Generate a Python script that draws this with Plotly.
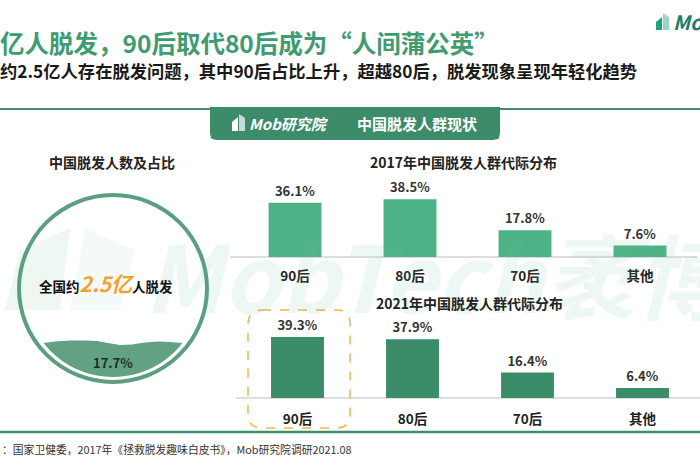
import plotly.graph_objects as go
import math

W, H = 700, 470

# ---------------- data ----------------
categories = ["90后", "80后", "70后", "其他"]
share_2017 = [36.1, 38.5, 17.8, 7.6]
share_2021 = [39.3, 37.9, 16.4, 6.4]
labels_2017 = ["36.1%", "38.5%", "17.8%", "7.6%"]
labels_2021 = ["39.3%", "37.9%", "16.4%", "6.4%"]
bald_share_label = "17.7%"

title_text = "亿人脱发，90后取代80后成为“人间蒲公英”"
subtitle_text = "约2.5亿人存在脱发问题，其中90后占比上升，超越80后，脱发现象呈现年轻化趋势"
banner_text = "中国脱发人群现状"
left_title = "中国脱发人数及占比"
chart1_title = "2017年中国脱发人群代际分布"
chart2_title = "2021年中国脱发人群代际分布"
source_text = "：国家卫健委，2017年《拯救脱发趣味白皮书》，Mob研究院调研2021.08"

FONT = "Noto Sans CJK SC, Noto Sans, sans-serif"
GREEN_DARK = "#3d8c69"
GREEN_BAR1 = "#4db386"
GREEN_BAR2 = "#3b8c68"
CIRCLE_GREEN = "#5c9e80"


def px(x):
    return x / W


def py(y):
    return 1 - y / H


def path_from(points, close=True):
    s = "M " + " L ".join(f"{px(x):.5f},{py(y):.5f}" for x, y in points)
    return s + (" Z" if close else "")


fig = go.Figure()

# ---------------- bar charts ----------------
fig.add_trace(go.Bar(
    x=categories, y=share_2017, text=labels_2017, textposition="outside",
    marker=dict(color=GREEN_BAR1, line=dict(width=0)), width=0.46,
    textfont=dict(size=13, color="#333333", family=FONT, weight="bold"),
    cliponaxis=False, xaxis="x", yaxis="y", showlegend=False, hoverinfo="skip",
))
fig.add_trace(go.Bar(
    x=categories, y=share_2021, text=labels_2021, textposition="outside",
    marker=dict(color=GREEN_BAR2, line=dict(width=0)), width=0.46,
    textfont=dict(size=13, color="#333333", family=FONT, weight="bold"),
    cliponaxis=False, xaxis="x2", yaxis="y2", showlegend=False, hoverinfo="skip",
))

top_base, bot_base = 257, 398
axis_common = dict(showgrid=False, zeroline=False, showline=False, fixedrange=True)
fig.update_layout(
    xaxis=dict(domain=[px(237.5), px(697.5)], range=[-0.5, 3.5], anchor="y",
               tickfont=dict(size=13.5, color="#222", family=FONT, weight="bold"),
               ticks="", ticklabelstandoff=9, **axis_common),
    yaxis=dict(domain=[py(top_base), py(top_base) + 75 / H], range=[0, 50], anchor="x",
               showticklabels=False, **axis_common),
    xaxis2=dict(domain=[px(240), px(700)], range=[-0.5, 3.5], anchor="y2",
                tickfont=dict(size=13.5, color="#222", family=FONT, weight="bold"),
                ticks="", ticklabelstandoff=11, **axis_common),
    yaxis2=dict(domain=[py(bot_base), py(bot_base) + 77.5 / H], range=[0, 50], anchor="x2",
                showticklabels=False, **axis_common),
)

shapes = []
# baselines
shapes.append(dict(type="line", xref="paper", yref="paper", x0=px(230), x1=px(697),
                   y0=py(top_base), y1=py(top_base), line=dict(color="#d3d3d3", width=1.5), layer="below"))
shapes.append(dict(type="line", xref="paper", yref="paper", x0=px(236), x1=px(700),
                   y0=py(bot_base), y1=py(bot_base), line=dict(color="#d3d3d3", width=1.5), layer="below"))
# header line and banner
shapes.append(dict(type="line", xref="paper", yref="paper", x0=0, x1=1, y0=py(109), y1=py(109),
                   line=dict(color="#4a8a6e", width=2)))
r = 7
banner = [(210, 107), (500, 107), (500, 140 - r), (499, 138), (498, 139), (500 - r, 140),
          (210 + r, 140), (212, 139), (211, 138), (210, 140 - r)]
shapes.append(dict(type="path", xref="paper", yref="paper", path=path_from(banner),
                   fillcolor=GREEN_DARK, line=dict(width=0)))
# small building icon in banner
icon = [(232, 131), (232, 122), (238, 117), (238, 131)]
icon2 = [(239, 131), (239, 114), (245, 118), (245, 131)]
shapes.append(dict(type="path", xref="paper", yref="paper", path=path_from(icon),
                   fillcolor="white", line=dict(width=0)))
shapes.append(dict(type="path", xref="paper", yref="paper", path=path_from(icon2),
                   fillcolor="rgba(255,255,255,0.7)", line=dict(width=0)))
# top-right logo icon
logo = [(656, 30), (656, 22), (662, 17), (662, 30)]
logo2 = [(663, 30), (663, 13), (669, 17), (669, 30)]
shapes.append(dict(type="path", xref="paper", yref="paper", path=path_from(logo),
                   fillcolor="#1fa37f", line=dict(width=0)))
shapes.append(dict(type="path", xref="paper", yref="paper", path=path_from(logo2),
                   fillcolor="rgba(31,163,127,0.45)", line=dict(width=0)))

# watermark logo (faint)
wm_logo = [(5, 310), (20, 250), (70, 228), (60, 310)]
wm_logo2 = [(70, 310), (85, 228), (135, 250), (120, 310)]
shapes.append(dict(type="path", xref="paper", yref="paper", path=path_from(wm_logo),
                   fillcolor="rgba(120,190,160,0.12)", line=dict(width=0), layer="below"))
shapes.append(dict(type="path", xref="paper", yref="paper", path=path_from(wm_logo2),
                   fillcolor="rgba(120,190,160,0.08)", line=dict(width=0), layer="below"))

# circle
cx, cy = 113, 289
shapes.append(dict(type="circle", xref="paper", yref="paper", x0=px(19), x1=px(207),
                   y0=py(382), y1=py(195), line=dict(color=CIRCLE_GREEN, width=4)))
# wave fill inside circle
Rin = 88
wave_top = [(44, 343), (55, 341.5), (70, 340.5), (85, 340.5), (97, 341), (108, 343),
            (120, 345), (132, 344.5), (145, 342.5), (158, 341.5), (170, 342), (182, 343)]
arc = []
a0 = math.atan2(343 - cy, 182 - cx)
a1 = math.atan2(343 - cy, 44 - cx)
n = 30
for i in range(n + 1):
    a = a0 + (a1 - a0) * i / n
    arc.append((cx + Rin * math.cos(a), cy + Rin * math.sin(a)))
shapes.append(dict(type="path", xref="paper", yref="paper", path=path_from(wave_top + arc),
                   fillcolor="#62a283", line=dict(width=0)))

# dashed highlight box
rr = 14
x0b, x1b, y0b, y1b = 248, 350, 310, 428
hb = (f"M {px(x0b + rr)},{py(y0b)} L {px(x1b - rr)},{py(y0b)} "
      f"Q {px(x1b)},{py(y0b)} {px(x1b)},{py(y0b + rr)} L {px(x1b)},{py(y1b - rr)} "
      f"Q {px(x1b)},{py(y1b)} {px(x1b - rr)},{py(y1b)} L {px(x0b + rr)},{py(y1b)} "
      f"Q {px(x0b)},{py(y1b)} {px(x0b)},{py(y1b - rr)} L {px(x0b)},{py(y0b + rr)} "
      f"Q {px(x0b)},{py(y0b)} {px(x0b + rr)},{py(y0b)} Z")
shapes.append(dict(type="path", xref="paper", yref="paper", path=hb,
                   line=dict(color="#f2b24e", width=1.5, dash="dash")))
# bottom line
shapes.append(dict(type="line", xref="paper", yref="paper", x0=0, x1=1, y0=py(432), y1=py(432),
                   line=dict(color="#3e8e6a", width=2.5)))

annotations = []


def ann(text, x, y, size, color="#222", xanchor="center", bold=True, italic=False, **kw):
    annotations.append(dict(
        text=text, x=px(x), y=py(y), xref="paper", yref="paper", showarrow=False,
        xanchor=xanchor, yanchor="middle",
        font=dict(size=size, color=color, family=FONT, weight="bold" if bold else "normal",
                  style="italic" if italic else "normal"), **kw))


# watermark text
ann("MobTech袤博", 142, 272, 92, color="rgba(110,190,155,0.12)", xanchor="left", italic=True)

ann(title_text, -2, 42, 24.5, color="#3f9b72", xanchor="left")
ann(subtitle_text, -2, 70, 17.3, color="#1a1a1a", xanchor="left")
ann("Mob", 671, 22, 20, color="#1c7d6c", xanchor="left", italic=True)

ann("Mob研究院", 247, 123, 15, color="white", xanchor="left", italic=True)
ann(banner_text, 355, 123, 15, color="white", xanchor="left")

ann(left_title, 112, 162, 14, color="#222")
ann("全国约<span style='font-size:21px;color:#f0a12e'><i>2.5亿</i></span>人脱发",
    106, 283, 13.5, color="#111")
ann(bald_share_label, 113, 362, 13, color="#1e2e26")

ann(chart1_title, 463, 162, 14, color="#222")
ann(chart2_title, 470, 303, 14, color="#222")

ann(source_text, 0, 449, 10.8, color="#333", xanchor="left", bold=False)

fig.update_layout(
    width=W, height=H, margin=dict(l=0, r=0, t=0, b=0),
    paper_bgcolor="white", plot_bgcolor="rgba(0,0,0,0)",
    shapes=shapes, annotations=annotations, bargap=0.5,
    font=dict(family=FONT),
)

fig.write_html("out.html", config={"displayModeBar": False})
